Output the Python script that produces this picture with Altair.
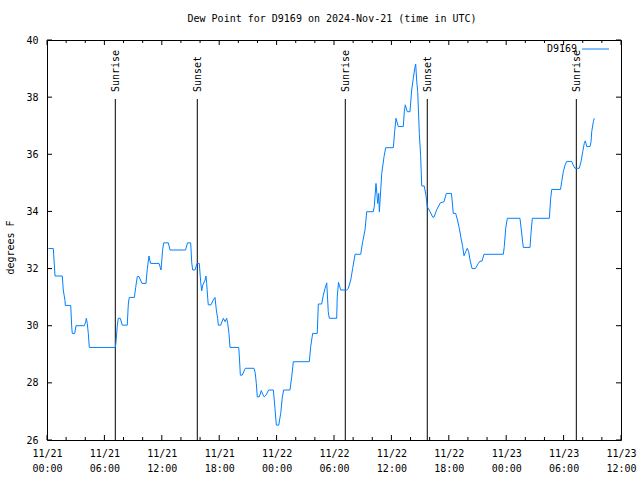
import altair as alt
import pandas as pd

# ---- data ----
hours = [0.14, 0.66, 0.84, 1.60, 1.70, 1.88, 1.91, 2.48, 2.58, 2.64, 2.90, 3.03, 3.90, 4.05, 4.11, 4.21,
         4.32, 4.42, 7.14, 7.21, 7.35, 7.45, 7.66, 7.87, 8.39, 8.50, 8.60, 9.13, 9.27, 9.44, 9.62, 9.93,
         10.35, 10.48, 10.66, 10.74, 10.84, 11.71, 11.92, 12.09, 12.20, 12.68, 12.86, 14.48, 14.69, 15.02,
         15.13, 15.23, 15.47, 15.68, 15.92, 16.07, 16.17, 16.28, 16.52, 16.62, 16.69, 16.80, 16.86, 17.14,
         17.38, 17.56, 17.70, 17.84, 17.91, 18.16, 18.43, 18.61, 18.78, 18.89, 19.02, 19.13, 20.04, 20.10,
         20.21, 20.41, 20.73, 21.64, 21.77, 21.88, 21.98, 22.19, 22.40, 22.55, 22.71, 22.89, 23.17, 23.66,
         23.83, 23.97, 24.22, 24.43, 24.60, 24.74, 25.40, 25.58, 25.75, 27.42, 27.56, 27.77, 28.25, 28.36,
         28.71, 28.88, 29.06, 29.24, 29.40, 29.51, 30.28, 30.34, 30.47, 30.70, 31.33, 31.49, 31.75, 31.95,
         32.20, 32.79, 33.00, 33.24, 33.42, 34.11, 34.21, 34.39, 34.57, 34.67, 34.74, 34.99, 35.23, 35.40,
         36.20, 36.34, 36.48, 36.72, 37.24, 37.35, 37.45, 37.66, 37.94, 38.12, 38.29, 38.44, 38.54, 38.64,
         38.75, 38.92, 39.06, 39.17, 39.43, 39.62, 39.75, 40.04, 40.32, 40.45, 40.74, 41.11, 41.50, 41.74,
         42.28, 42.47, 42.72, 42.91, 43.10, 43.31, 43.45, 43.59, 43.77, 43.93, 44.08, 44.22, 44.43, 44.77,
         45.09, 45.26, 45.47, 45.68, 47.70, 47.80, 47.95, 48.12, 49.44, 49.58, 49.73, 49.79, 50.49, 50.59,
         50.73, 52.51, 52.65, 52.76, 53.68, 53.80, 53.97, 54.15, 54.33, 54.85, 55.01, 55.19, 55.64, 55.82,
         56.00, 56.16, 56.27, 56.42, 56.76, 56.87, 56.94, 57.11, 57.21]
dewpoint = [32.70, 32.70, 31.74, 31.74, 31.25, 30.88, 30.71, 30.71, 29.99, 29.73, 29.73, 30.00, 30.00, 30.14, 30.26, 30.08,
            29.73, 29.24, 29.24, 29.41, 30.02, 30.26, 30.26, 30.02, 30.02, 30.76, 30.99, 30.99, 31.34, 31.72, 31.72, 31.48,
            31.48, 31.97, 32.44, 32.30, 32.18, 32.18, 31.95, 32.67, 32.90, 32.90, 32.65, 32.65, 32.90, 32.90,
            32.20, 31.95, 31.95, 32.18, 32.18, 31.50, 31.22, 31.42, 31.60, 31.74, 31.48, 30.96, 30.73, 30.73,
            30.90, 30.99, 30.55, 30.26, 30.02, 30.02, 30.26, 30.14, 30.26, 30.08, 29.73, 29.24, 29.24, 28.97,
            28.27, 28.27, 28.51, 28.51, 28.34, 27.98, 27.51, 27.51, 27.73, 27.60, 27.51, 27.57, 27.75, 27.75,
            27.11, 26.52, 26.52, 26.93, 27.51, 27.75, 27.75, 28.21, 28.74, 28.74, 29.26, 29.73, 29.73, 30.76,
            30.76, 31.07, 31.30, 31.50, 30.49, 30.26, 30.26, 31.01, 31.52, 31.25, 31.25, 31.30, 31.60, 32.00,
            32.50, 32.50, 32.94, 33.35, 33.99, 33.99, 34.17, 34.98, 34.28, 34.63, 33.99, 35.33, 35.92, 36.23,
            36.23, 36.79, 37.26, 36.97, 36.97, 37.49, 37.73, 37.49, 37.49, 38.25, 38.66, 39.01, 39.16, 38.60,
            38.19, 36.73, 35.92, 34.89, 34.89, 34.55, 34.17, 33.99, 33.80, 33.80, 34.06, 34.30, 34.34, 34.63,
            34.63, 33.93, 33.93, 33.70, 33.41, 33.00, 32.77, 32.45, 32.59, 32.71, 32.59, 32.30, 32.00, 32.00,
            32.18, 32.26, 32.26, 32.50, 32.50, 32.77, 33.41, 33.76, 33.76, 33.35, 32.90, 32.74, 32.74, 33.23,
            33.76, 33.76, 34.46, 34.77, 34.77, 35.04, 35.39, 35.62, 35.75, 35.75, 35.62, 35.51, 35.51, 35.74,
            36.09, 36.38, 36.47, 36.27, 36.27, 36.44, 36.79, 37.14, 37.26]

sun_hours = [7.14, 15.71, 31.18, 39.75, 55.33]
sun_labels = ["Sunrise", "Sunset", "Sunrise", "Sunset", "Sunrise"]

x_major = list(range(0, 61, 6))
x_minor = [h for h in range(0, 61, 2) if h % 6 != 0]
y_major = [26, 28, 30, 32, 34, 36, 38, 40]

title_text = "Dew Point for D9169 on 2024-Nov-21 (time in UTC)"
series_name = "D9169"

# ---- styling ----
W, H = 574, 400
FONT = "DejaVu Sans Mono"
BLUE = "#0080ff"
MAJ, MIN = 5, 3

xs = alt.Scale(domain=[0, 60], nice=False, zero=False)
ys = alt.Scale(domain=[26, 40], nice=False, zero=False)

df = pd.DataFrame({"h": hours, "v": dewpoint})
sun = pd.DataFrame({"h": sun_hours, "label": sun_labels})
xmaj = pd.DataFrame({"h": x_major})
xmin = pd.DataFrame({"h": x_minor})
ymaj = pd.DataFrame({"v": y_major})

label_expr = ("['11/' + (21 + floor(datum.value / 24)), "
              "((datum.value % 24) < 10 ? '0' : '') + (datum.value % 24) + ':00']")

line = alt.Chart(df).mark_line(color=BLUE, strokeWidth=1, clip=True).encode(
    x=alt.X("h:Q", scale=xs, axis=alt.Axis(values=x_major, labelExpr=label_expr, ticks=False,
                                           domain=False, grid=False, title=None, labelFont=FONT,
                                           labelFontSize=10, labelColor="black", labelPadding=8,
                                           labelLineHeight=15, labelFlush=False, labelOverlap=False)),
    y=alt.Y("v:Q", scale=ys, axis=alt.Axis(values=y_major, ticks=False, domain=False, grid=False,
                                           title="degrees F", labelFont=FONT, labelFontSize=10,
                                           labelColor="black", labelPadding=9, titleFont=FONT,
                                           titleFontSize=10, titleFontWeight="normal", titleColor="black",
                                           titleX=-37, titleY=207, titleAngle=270,
                                           titleAlign="center", titleBaseline="middle")),
)

sun_rules = alt.Chart(sun).mark_rule(color="black", strokeWidth=1).encode(
    x=alt.X("h:Q", scale=xs), y=alt.value(59), y2=alt.value(H))
sun_text = alt.Chart(sun).mark_text(angle=270, align="left", baseline="middle", font=FONT,
                                    fontSize=10, color="black", dy=1).encode(
    x=alt.X("h:Q", scale=xs), y=alt.value(52), text="label:N")

xb_maj = alt.Chart(xmaj).mark_rule(color="black").encode(
    x=alt.X("h:Q", scale=xs), y=alt.value(H), y2=alt.value(H - MAJ))
xt_maj = alt.Chart(xmaj).mark_rule(color="black").encode(
    x=alt.X("h:Q", scale=xs), y=alt.value(0), y2=alt.value(MAJ))
xb_min = alt.Chart(xmin).mark_rule(color="black").encode(
    x=alt.X("h:Q", scale=xs), y=alt.value(H), y2=alt.value(H - MIN))
xt_min = alt.Chart(xmin).mark_rule(color="black").encode(
    x=alt.X("h:Q", scale=xs), y=alt.value(0), y2=alt.value(MIN))
yl = alt.Chart(ymaj).mark_rule(color="black").encode(
    y=alt.Y("v:Q", scale=ys), x=alt.value(0), x2=alt.value(MAJ))
yr = alt.Chart(ymaj).mark_rule(color="black").encode(
    y=alt.Y("v:Q", scale=ys), x=alt.value(W - MAJ), x2=alt.value(W))

title = alt.Chart(pd.DataFrame({"t": [title_text]})).mark_text(
    font=FONT, fontSize=10, color="black", align="center", baseline="middle").encode(
    x=alt.value(W / 2 - 2), y=alt.value(-21), text="t:N")

leg_text = alt.Chart(pd.DataFrame({"t": [series_name]})).mark_text(
    font=FONT, fontSize=10, color="black", align="right", baseline="middle").encode(
    x=alt.value(530), y=alt.value(9), text="t:N")
leg_line = alt.Chart(pd.DataFrame({"t": [series_name]})).mark_rule(color=BLUE, strokeWidth=1).encode(
    x=alt.value(535), x2=alt.value(562), y=alt.value(9))

chart = alt.layer(
    xb_maj, xt_maj, xb_min, xt_min, yl, yr, sun_rules, sun_text, line, title, leg_text, leg_line
).properties(
    width=W, height=H,
    autosize=alt.AutoSizeParams(type="none"),
    padding={"left": 47, "top": 40, "right": 19, "bottom": 40},
    background="white",
).configure_view(stroke="black", strokeWidth=1)

chart.save("out.html", embed_options={"renderer": "svg", "actions": False})
